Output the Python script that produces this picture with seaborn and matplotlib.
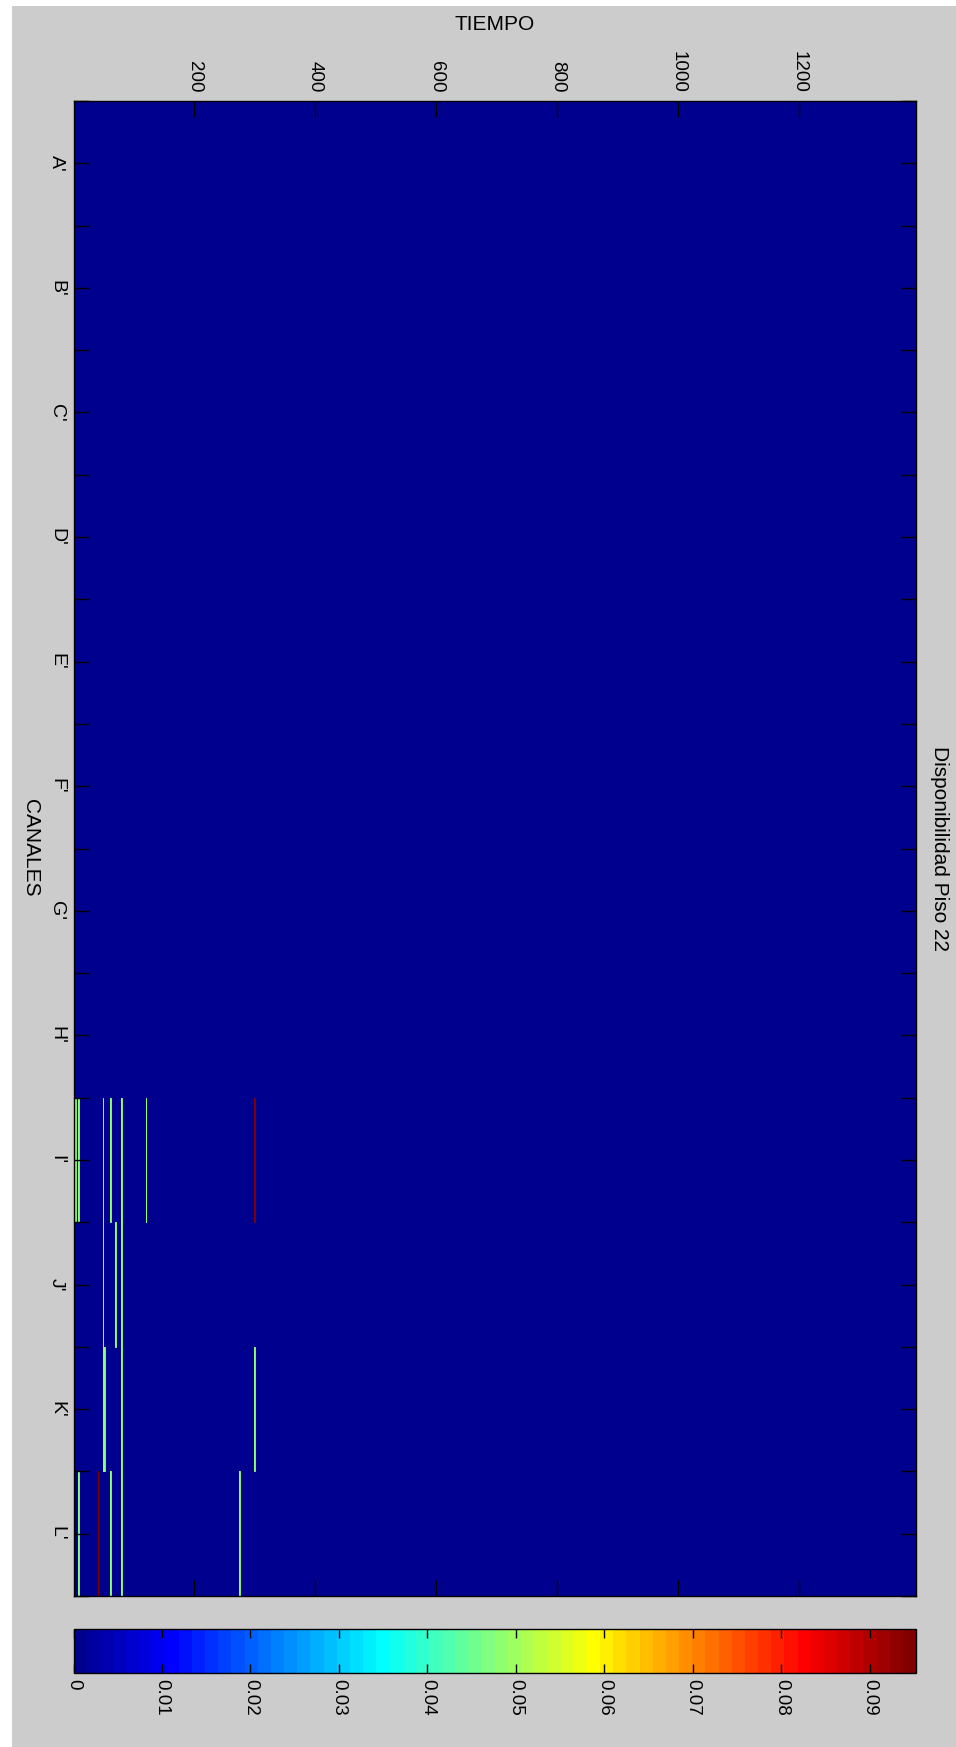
import numpy as np
import pandas as pd
import seaborn as sns
import matplotlib.pyplot as plt
from matplotlib.colors import ListedColormap
from matplotlib.patches import Rectangle

# datos
canales = ["A'", "B'", "C'", "D'", "E'", "F'", "G'", "H'", "I'", "J'", "K'", "L'"]
n_tiempo = 1392
tiempo_ticks = [200, 400, 600, 800, 1000, 1200]
cbar_ticks = [0, 0.01, 0.02, 0.03, 0.04, 0.05, 0.06, 0.07, 0.08, 0.09]
cbar_labels = ["0", "0.01", "0.02", "0.03", "0.04", "0.05", "0.06", "0.07", "0.08", "0.09"]

valor_verde = 0.0476
valor_rojo = 0.0952

verde_canal = ["I'", "I'", "I'", "I'", "I'", "I'",
               "J'", "J'", "J'",
               "K'", "K'", "K'", "K'", "K'", "K'",
               "L'", "L'", "L'", "L'"]
verde_t = [4, 9, 49, 62, 80, 120,
           49, 70, 80,
           49, 50, 51, 52, 80, 300,
           9, 62, 80, 275]
rojo_canal = ["I'", "L'"]
rojo_t = [300, 41]


def matlab_jet(m=64):
    n = int(np.ceil(m / 4))
    u = np.concatenate([np.arange(1, n + 1) / n, np.ones(n - 1), np.arange(n, 0, -1) / n])
    g = int(np.ceil(n / 2)) - (1 if m % 4 == 1 else 0) + np.arange(1, len(u) + 1)
    r = g + n
    b = g - n
    J = np.zeros((m, 3))
    J[r[r <= m] - 1, 0] = u[r <= m]
    J[g[g <= m] - 1, 1] = u[g <= m]
    J[b[b >= 1] - 1, 2] = u[-np.sum(b >= 1):]
    return J


jet = ListedColormap(matlab_jet(64))

# matriz canal x tiempo
mat = np.zeros((len(canales), n_tiempo))
for c, t in zip(verde_canal, verde_t):
    mat[canales.index(c), t - 1] = valor_verde
for c, t in zip(rojo_canal, rojo_t):
    mat[canales.index(c), t - 1] = valor_rojo
df = pd.DataFrame(mat, index=canales, columns=np.arange(1, n_tiempo + 1))

plt.rcParams['font.family'] = ['Liberation Sans', 'DejaVu Sans']

W, H = 956, 1747
fig = plt.figure(figsize=(W / 100, H / 100), dpi=100, facecolor='white')
fig.add_artist(Rectangle((12 / W, 0), 1 - 12 / W, 1 - 6 / H, transform=fig.transFigure,
                         facecolor='#CCCCCC', edgecolor='none', zorder=-10))

ax = fig.add_axes([73.5 / W, (H - 1596) / H, 842.5 / W, 1495 / H])
cax = fig.add_axes([73.5 / W, (H - 1673) / H, 842.5 / W, 44 / H])
ax.set_facecolor(jet(0))

sns.heatmap(df, ax=ax, cmap=jet, vmin=0, vmax=valor_rojo, cbar_ax=cax,
            cbar_kws={'orientation': 'horizontal'},
            xticklabels=False, yticklabels=False)
# las celdas de un minuto miden menos de un pixel: se repintan con borde para que se vean
sns.heatmap(df, ax=ax, mask=(df == 0), cmap=jet, vmin=0, vmax=valor_rojo, cbar=False,
            xticklabels=False, yticklabels=False,
            linewidths=0.6, linecolor='face', antialiased=True)

# eje tiempo (arriba)
ax.set_xticks([t - 0.5 for t in tiempo_ticks])
ax.set_xticklabels([str(t) for t in tiempo_ticks])
ax.tick_params(axis='x', top=True, bottom=True, labeltop=True, labelbottom=False,
               direction='in', length=11.5, width=1, color='black', pad=6,
               labelsize=13.5, labelrotation=-90)
for lb in ax.get_xticklabels():
    lb.set_va('bottom')
    lb.set_ha('center')

# eje canales (izquierda)
ax.set_yticks(np.arange(len(canales)) + 0.5)
ax.set_yticklabels(canales)
ax.set_yticks(np.arange(len(canales) + 1), minor=True)
ax.tick_params(axis='y', which='both', left=True, right=True, direction='in',
               length=11, width=1, color='black', pad=6, labelsize=14, labelrotation=-90)
for lb in ax.get_yticklabels():
    lb.set_va('center')
    lb.set_ha('right')
ax.set_xlabel('')
ax.set_ylabel('')
for s in ax.spines.values():
    s.set_visible(True)
    s.set_color('black')
    s.set_linewidth(1)

# barra de color
cb = ax.collections[0].colorbar
cb.set_ticks(cbar_ticks)
cb.set_ticklabels(cbar_labels)
cb.outline.set_linewidth(1)
cb.outline.set_edgecolor('black')
cax.tick_params(axis='x', top=True, bottom=True, direction='in', length=6.5,
                width=1, color='black', pad=4, labelsize=13.5, labelrotation=-90)
for lb in cax.get_xticklabels():
    lb.set_va('top')
    lb.set_ha('center')

# textos
fig.text(495 / W, 1 - 25 / H, 'TIEMPO', ha='center', va='center', fontsize=15)
fig.text(30 / W, 1 - 848 / H, 'CANALES', ha='center', va='center', fontsize=15, rotation=-90)
fig.text(939 / W, 1 - 848 / H, 'Disponibilidad Piso 22', ha='center', va='center',
         fontsize=15, rotation=-90)

fig.savefig('out.png', dpi=100, facecolor=fig.get_facecolor())
